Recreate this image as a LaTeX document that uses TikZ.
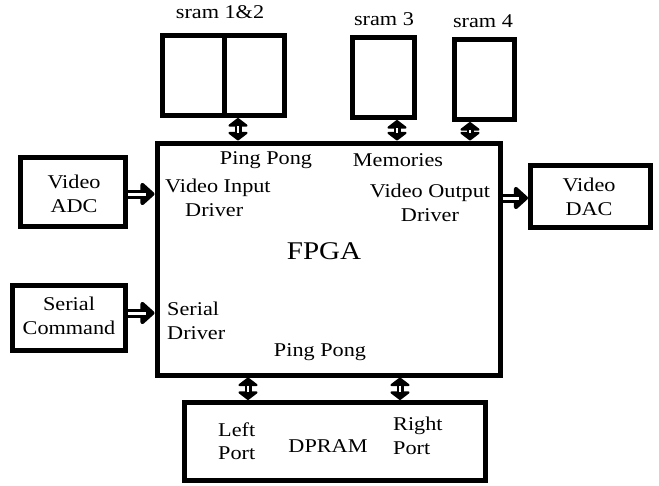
\documentclass[tikz,border=0pt]{standalone}
\usepackage{fontspec}
\setmainfont{Liberation Serif}[FakeStretch=1.14]
\usetikzlibrary{arrows.meta}
\begin{document}
\begin{tikzpicture}[x=1pt,y=-1pt,
  box/.style={draw=black, line width=5pt, inner sep=0pt},
  lbl/.style={inner sep=0pt, align=center, font=\fontsize{19.5}{23.5}\selectfont},
  lbll/.style={inner sep=0pt, align=left, font=\fontsize{19.5}{23.5}\selectfont},
  big/.style={inner sep=0pt, font=\fontsize{25.5}{30}\selectfont},
  harrow/.style={draw=black, line width=9pt, -{Triangle[length=15pt,width=26pt,round]},
    postaction={draw=white, line width=3pt, -, shorten >=9pt}},
  varrow/.style={draw=black, line width=7pt,
    {Triangle[length=9pt,width=23pt,round]}-{Triangle[length=9pt,width=23pt,round]},
    postaction={draw=white, line width=2pt, -, shorten >=8pt, shorten <=8pt}}]
\useasboundingbox (0,0) rectangle (659,485);
% boxes
\node[box, minimum width=343pt, minimum height=232pt] (fpga) at (328.5,259) {};
\node[box, minimum width=122pt, minimum height=80pt] (sram12) at (223.5,75.5) {};
\draw[line width=5pt] (sram12.north -| 224,0) -- (sram12.south -| 224,0);
\node[box, minimum width=62pt, minimum height=80pt] (sram3) at (383.5,77.5) {};
\node[box, minimum width=60pt, minimum height=80pt] (sram4) at (484.5,79.5) {};
\node[box, minimum width=105pt, minimum height=69pt] (adc) at (73,192) {};
\node[box, minimum width=113pt, minimum height=65pt] (ser) at (69,318) {};
\node[box, minimum width=120pt, minimum height=62pt] (dac) at (590.5,196.5) {};
\node[box, minimum width=301pt, minimum height=78pt] (dpram) at (335,441.5) {};
% labels
\node[lbl] (l12) at (220,12) {sram 1\&2};
\node[lbl] (l3) at (384,19) {sram 3};
\node[lbl] (l4) at (483,21) {sram 4};
\node[lbl] (pp1) at (266,160) {Ping Pong};
\node[lbl] (mem) at (398,160) {Memories};
\node[lbll, anchor=west] (vid) at (165,198) {Video Input\\\hspace*{20pt}Driver};
\node[lbl] (vod) at (430,203) {Video Output\\Driver};
\node[big] (fl) at (324,251) {FPGA};
\node[lbll, anchor=west] (sd) at (167,321) {Serial\\Driver};
\node[lbl] (pp2) at (320,352) {Ping Pong};
\node[lbl] (tadc) at (74,194) {Video\\ADC};
\node[lbl] (tser) at (69,316) {Serial\\Command};
\node[lbl] (tdac) at (589,197) {Video\\DAC};
\node[lbll, anchor=west] (lp) at (218,441) {Left\\Port};
\node[lbl] (dl) at (328,446) {DPRAM};
\node[lbll, anchor=west] (rp) at (393,436) {Right\\Port};
% connectors
\draw[harrow] (adc.east |- 0,194) -- (fpga.west |- 0,194);
\draw[harrow] (ser.east |- 0,313) -- (fpga.west |- 0,313);
\draw[harrow] (fpga.east |- 0,198) -- (dac.west |- 0,198);
\draw[varrow] (sram12.south -| 238,0) -- (fpga.north -| 238,0);
\draw[varrow] (sram3.south -| 397,0) -- (fpga.north -| 397,0);
\draw[varrow] (sram4.south -| 470,0) -- (fpga.north -| 470,0);
\draw[varrow] (fpga.south -| 248,0) -- (dpram.north -| 248,0);
\draw[varrow] (fpga.south -| 400,0) -- (dpram.north -| 400,0);
\end{tikzpicture}
\end{document}
